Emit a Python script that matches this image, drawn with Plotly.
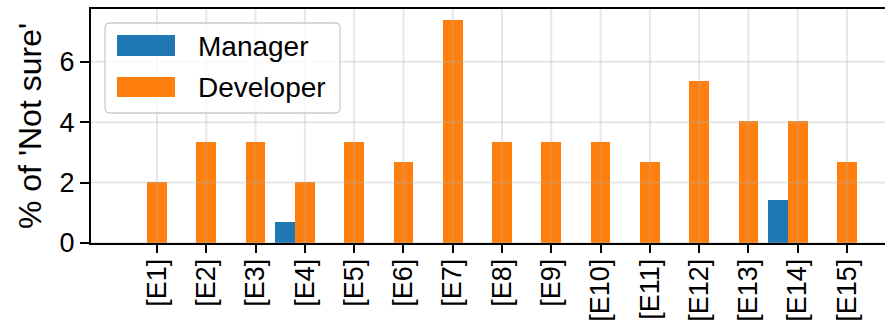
import plotly.graph_objects as go

# Share of "Not sure" answers per item, by role
labels = ["[E1]", "[E2]", "[E3]", "[E4]", "[E5]", "[E6]", "[E7]", "[E8]",
          "[E9]", "[E10]", "[E11]", "[E12]", "[E13]", "[E14]", "[E15]"]
manager = [0, 0, 0, 0.71, 0, 0, 0, 0, 0, 0, 0, 0, 0, 1.42, 0]
developer = [2.01, 3.36, 3.36, 2.01, 3.36, 2.68, 7.38, 3.36, 3.36, 3.36,
             2.68, 5.37, 4.03, 4.03, 2.68]
y_ticks = [0, 2, 4, 6]
series_names = ["Manager", "Developer"]

BLUE = "#1f77b4"
ORANGE = "#ff7f0e"
FONT = "Liberation Sans, Arial, Helvetica, sans-serif"
FS = 27

W, H = 885, 328
L, T, R, B = 91, 9, 0, 85
PW, PH = W - L - R, H - T - B

bar_w = 0.4
idx = list(range(len(labels)))
x_man = [i - bar_w / 2 for i in idx]
x_dev = [i + bar_w / 2 for i in idx]
tick_x = x_dev

fig = go.Figure()
fig.add_trace(go.Bar(x=x_man, y=manager, width=bar_w, marker_color=BLUE,
                     marker_line_width=0, name=series_names[0], showlegend=False))
fig.add_trace(go.Bar(x=x_dev, y=developer, width=bar_w, marker_color=ORANGE,
                     marker_line_width=0, name=series_names[1], showlegend=False))

GRID = "rgba(176,176,176,0.3)"
# grid drawn over the bars
for xv in tick_x:
    fig.add_shape(type="line", xref="x", yref="paper", x0=xv, x1=xv, y0=0, y1=1,
                  line=dict(color=GRID, width=2), layer="above")
for yv in y_ticks:
    fig.add_shape(type="line", xref="paper", yref="y", x0=0, x1=1, y0=yv, y1=yv,
                  line=dict(color=GRID, width=2), layer="above")


def px(xp):
    return (xp - L) / PW


def py(yp):
    return (H - B - yp) / PH


# legend frame with rounded corners
x0, x1, y0, y1, r = 105, 340, 23, 113, 5
path = (f"M {px(x0 + r)} {py(y0)} L {px(x1 - r)} {py(y0)} "
        f"Q {px(x1)} {py(y0)} {px(x1)} {py(y0 + r)} L {px(x1)} {py(y1 - r)} "
        f"Q {px(x1)} {py(y1)} {px(x1 - r)} {py(y1)} L {px(x0 + r)} {py(y1)} "
        f"Q {px(x0)} {py(y1)} {px(x0)} {py(y1 - r)} L {px(x0)} {py(y0 + r)} "
        f"Q {px(x0)} {py(y0)} {px(x0 + r)} {py(y0)} Z")
fig.add_shape(type="path", xref="paper", yref="paper", path=path,
              fillcolor="rgba(255,255,255,0.8)",
              line=dict(color="#cccccc", width=1.3), layer="above")
for (sy0, sy1, ty), col, name in zip([(35, 56, 46), (77, 97, 87)],
                                     [BLUE, ORANGE], series_names):
    fig.add_shape(type="rect", xref="paper", yref="paper",
                  x0=px(117), x1=px(175), y0=py(sy1), y1=py(sy0),
                  fillcolor=col, line_width=0, layer="above")
    fig.add_annotation(xref="paper", yref="paper", x=px(196), y=py(ty),
                       text=name, showarrow=False, xanchor="left",
                       yanchor="middle", font=dict(family=FONT, size=28,
                                                   color="black"))

fig.update_layout(
    width=W, height=H,
    margin=dict(l=L, r=R, t=T, b=B, autoexpand=False),
    paper_bgcolor="white", plot_bgcolor="white",
    font=dict(family=FONT, size=FS, color="black"),
    bargap=0, showlegend=False,
)
fig.update_xaxes(
    range=[-1.139, 14.971], tickmode="array", tickvals=tick_x, ticktext=labels,
    tickangle=-90, ticks="outside", ticklen=8, tickwidth=2, tickcolor="black",
    showline=True, linecolor="black", linewidth=2, mirror=True,
    showgrid=False, zeroline=False, layer="above traces", ticklabelstandoff=-5,
)
fig.update_yaxes(
    range=[0, 7.749], tickmode="array", tickvals=y_ticks,
    ticks="outside", ticklen=9, tickwidth=2, tickcolor="black",
    showline=True, linecolor="black", linewidth=2,
    showgrid=False, zeroline=False, layer="above traces",
    title=dict(text="% of 'Not sure'", standoff=8),
)

fig.write_html("out.html")
